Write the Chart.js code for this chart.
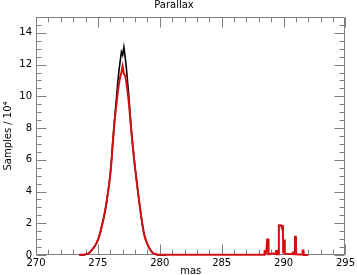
<!DOCTYPE html>
<html>
<head>
<meta charset="utf-8">
<script src="https://cdn.jsdelivr.net/npm/chart.js@4/dist/chart.umd.min.js"></script>
<style>
  html, body { margin: 0; padding: 0; background: #fff; }
  canvas { display: block; }
</style>
</head>
<body>
<canvas id="c" width="357" height="275"></canvas>
<script>
// histogram bin centres around the main peak (mas)
const peakX = [
  273.5, 273.6, 273.7, 273.8, 273.9,
  274.0, 274.1, 274.2, 274.3, 274.4, 274.5, 274.6, 274.7, 274.8, 274.9,
  275.0, 275.1, 275.2, 275.3, 275.4, 275.5, 275.6, 275.7, 275.8, 275.9,
  276.0, 276.1, 276.2, 276.3, 276.4, 276.5, 276.6, 276.7, 276.8, 276.9,
  277.0, 277.1, 277.2, 277.3, 277.4, 277.5, 277.6, 277.7, 277.8, 277.9,
  278.0, 278.1, 278.2, 278.3, 278.4, 278.5, 278.6, 278.7, 278.8, 278.9,
  279.0, 279.1, 279.2, 279.3, 279.4, 279.5, 279.6, 279.7, 279.8, 279.9,
  280.0, 280.1, 280.2, 280.3, 280.4, 280.5,
];

// all samples (black), units of 10^4
const allSamples = [
  0, 0, 0.01, 0.01, 0.02,
  0.03, 0.05, 0.08, 0.13, 0.2, 0.3, 0.4, 0.5, 0.62, 0.76,
  0.93, 1.15, 1.42, 1.75, 2.1, 2.45, 2.85, 3.35, 3.9, 4.4,
  5.1, 6.0, 7.1, 8.1, 9.0, 9.9, 10.8, 11.6, 12.2, 12.8,
  12.6, 13.1, 12.5, 11.8, 10.9, 10.0, 8.9, 7.9, 7.0, 6.3,
  5.5, 4.9, 4.2, 3.6, 3.0, 2.4, 1.9, 1.45, 1.1, 0.9,
  0.7, 0.52, 0.38, 0.26, 0.17, 0.1, 0.06, 0.04, 0.02, 0.01,
  0.01, 0, 0, 0, 0, 0,
];

// selected samples (red), units of 10^4
const selSamples = [
  0.01, 0.01, 0.01, 0.02, 0.03,
  0.04, 0.06, 0.09, 0.14, 0.21, 0.31, 0.41, 0.51, 0.63, 0.78,
  0.95, 1.17, 1.44, 1.76, 2.1, 2.45, 2.85, 3.3, 3.85, 4.4,
  5.05, 5.9, 7.0, 8.0, 8.8, 9.5, 10.2, 10.8, 11.2, 11.5,
  11.9, 11.4, 11.3, 10.9, 10.3, 9.6, 8.7, 7.8, 7.0, 6.2,
  5.5, 4.85, 4.2, 3.6, 3.0, 2.4, 1.9, 1.45, 1.1, 0.88,
  0.68, 0.5, 0.36, 0.25, 0.16, 0.1, 0.06, 0.04, 0.03, 0.02,
  0.02, 0.01, 0.01, 0.01, 0.01, 0.01,
];

// secondary spikes of the selected samples
const spikeX = [
  284.0, 288.3, 288.45, 288.47, 288.58, 288.6, 288.65, 288.67, 288.77, 288.79,
  289.0, 289.2, 289.38, 289.4, 289.5, 289.52, 289.6, 289.62, 289.8, 289.82,
  289.95, 289.97, 290.02, 290.04, 290.09, 290.11, 290.4, 290.72, 290.74, 290.8,
  290.82, 290.9, 290.92, 291.0, 291.02, 291.3, 291.52, 291.54, 291.6, 291.62,
  292.0,
];
const spikeY = [
  0.01, 0.02, 0.02, 0.25, 0.25, 0.05, 0.05, 0.97, 0.97, 0.05,
  0.08, 0.1, 0.05, 0.25, 0.25, 0.05, 0.05, 1.87, 1.87, 1.82,
  1.82, 0.1, 0.1, 0.97, 0.97, 0.08, 0.06, 0.06, 0.15, 0.15,
  0.05, 0.05, 1.15, 1.15, 0.04, 0.03, 0.03, 0.28, 0.28, 0,
  0,
];

const xTicks = [270, 275, 280, 285, 290, 295];
const yTicks = [0, 2, 4, 6, 8, 10, 12, 14];

const blackPoints = peakX.map((x, i) => ({ x, y: allSamples[i] }));
const redPoints = peakX.map((x, i) => ({ x, y: selSamples[i] }))
  .concat(spikeX.map((x, i) => ({ x, y: spikeY[i] })));

const font = { family: "DejaVu Sans", size: 10, weight: "normal" };

// box frame with inward major/minor ticks on all four sides
const frameTicks = {
  id: "frameTicks",
  beforeDatasetsDraw(chart) {
    const { ctx, chartArea: a, scales: { x, y } } = chart;
    const L = Math.round(a.left) + 0.5, R = Math.round(a.right) - 0.5;
    const T = Math.round(a.top) + 0.5, B = Math.round(a.bottom) - 0.5;
    ctx.save();
    ctx.strokeStyle = "#808080";
    ctx.lineWidth = 1;
    ctx.strokeRect(L, T, R - L, B - T);
    ctx.beginPath();
    for (let v = x.min; v <= x.max; v += 1) {
      const px = Math.round(x.getPixelForValue(v)) + 0.5;
      const len = v % 5 === 0 ? 10 : 5;
      ctx.moveTo(px, B); ctx.lineTo(px, B - len);
      ctx.moveTo(px, T); ctx.lineTo(px, T + len);
    }
    for (let v = y.min; v <= y.max; v += 0.5) {
      const py = Math.round(y.getPixelForValue(v)) + 0.5;
      const len = v % 2 === 0 ? 10 : 5;
      ctx.moveTo(L, py); ctx.lineTo(L + len, py);
      ctx.moveTo(R, py); ctx.lineTo(R - len, py);
    }
    ctx.stroke();
    ctx.restore();
  },
};

new Chart(document.getElementById("c"), {
  type: "line",
  data: {
    datasets: [
      {
        label: "selected",
        data: redPoints,
        borderColor: "#d41010",
        borderWidth: 2,
        pointRadius: 0,
        tension: 0,
        order: 0,
        clip: 3,
      },
      {
        label: "all",
        data: blackPoints,
        borderColor: "#000000",
        borderWidth: 1.6,
        pointRadius: 0,
        tension: 0,
        order: 1,
        clip: 3,
      },
    ],
  },
  options: {
    responsive: false,
    animation: false,
    layout: { padding: { left: 0, right: 9, top: 0, bottom: 0 } },
    plugins: {
      legend: { display: false },
      tooltip: { enabled: false },
      title: {
        display: true,
        text: "Parallax",
        color: "#000",
        font,
        padding: { top: -1, bottom: 6 },
      },
    },
    scales: {
      x: {
        type: "linear",
        min: 270,
        max: 295,
        afterBuildTicks: (s) => { s.ticks = xTicks.map((value) => ({ value })); },
        afterFit: (s) => { s.height = 20; },
        grid: { display: false, drawTicks: false },
        border: { display: false },
        ticks: { color: "#000", font, padding: 2, maxRotation: 0, autoSkip: false },
        title: { display: true, text: "mas", color: "#000", font, padding: { top: 0, bottom: -2 } },
      },
      y: {
        min: 0,
        max: 15,
        afterBuildTicks: (s) => { s.ticks = yTicks.map((value) => ({ value })); },
        afterFit: (s) => { s.width = 36; },
        grid: { display: false, drawTicks: false },
        border: { display: false },
        ticks: { color: "#000", font, padding: 4, autoSkip: false },
        title: { display: true, text: "Samples / 10\u2074", color: "#000", font, padding: { top: 2, bottom: 0 } },
      },
    },
  },
  plugins: [frameTicks],
});
</script>
</body>
</html>
